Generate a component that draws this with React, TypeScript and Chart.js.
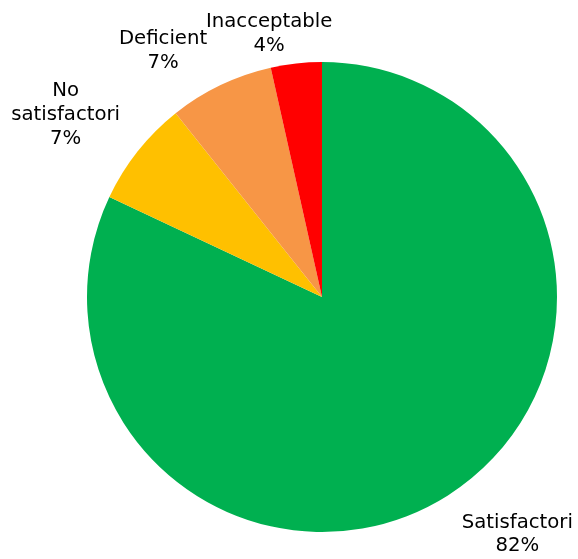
import React, { useEffect, useRef } from "react";
import { Chart, registerables } from "chart.js";

Chart.register(...registerables);

const categories = ["Satisfactori", "No satisfactori", "Deficient", "Inacceptable"];
const values = [82, 7.3, 7.2, 3.5];
const colors = ["#00B050", "#FFC000", "#F79646", "#FF0000"];
const labelLines = [["Satisfactori"], ["No", "satisfactori"], ["Deficient"], ["Inacceptable"]];
// small manual nudges (px) applied to the auto-placed outside labels
const labelNudges: [number, number][] = [
  [39.5, -3],
  [-16.5, 12.5],
  [-37.5, 13],
  [-23, 11.7],
];

const FONT = '19.7px "DejaVu Sans"';
const LINE_H = 23.8;

const outsideLabels = {
  id: "outsideLabels",
  afterDraw(chart: any) {
    const ctx = chart.ctx;
    const meta = chart.getDatasetMeta(0);
    const data = chart.data.datasets[0].data as number[];
    const total = data.reduce((a, b) => a + b, 0);
    ctx.save();
    ctx.font = FONT;
    ctx.fillStyle = "#000";
    ctx.textAlign = "center";
    ctx.textBaseline = "alphabetic";
    meta.data.forEach((arc: any, i: number) => {
      const p = arc.getProps(["x", "y", "startAngle", "endAngle", "outerRadius"], true);
      const mid = (p.startAngle + p.endAngle) / 2;
      const ux = Math.cos(mid);
      const uy = Math.sin(mid);
      const lines = [...labelLines[i], Math.round((data[i] / total) * 100) + "%"];
      const w = Math.max(...lines.map((l) => ctx.measureText(l).width));
      const h = lines.length * LINE_H;
      const extent = Math.abs(ux) * w / 2 + Math.abs(uy) * h / 2;
      const dist = p.outerRadius + 6 + extent;
      const cx = p.x + ux * dist + labelNudges[i][0];
      const cy = p.y + uy * dist + labelNudges[i][1];
      lines.forEach((l, k) => {
        ctx.fillText(l, cx, cy + (k - (lines.length - 1) / 2) * LINE_H);
      });
    });
    ctx.restore();
  },
};

export default function App() {
  const ref = useRef<HTMLCanvasElement | null>(null);
  useEffect(() => {
    if (!ref.current) return;
    const chart = new Chart(ref.current, {
      type: "pie",
      data: {
        labels: categories,
        datasets: [
          {
            data: values,
            backgroundColor: colors,
            borderWidth: 0,
          },
        ],
      },
      options: {
        responsive: false,
        animation: false,
        layout: { padding: { left: 86, right: 20, top: 62, bottom: 27 } },
        plugins: {
          legend: { display: false },
          tooltip: { enabled: false },
        },
      },
      plugins: [outsideLabels],
    });
    return () => chart.destroy();
  }, []);
  return (
    <div style={{ position: "absolute", left: 0, top: 0, width: 578, height: 559, background: "#fff" }}>
      <canvas ref={ref} width={578} height={559} style={{ display: "block" }} />
    </div>
  );
}
